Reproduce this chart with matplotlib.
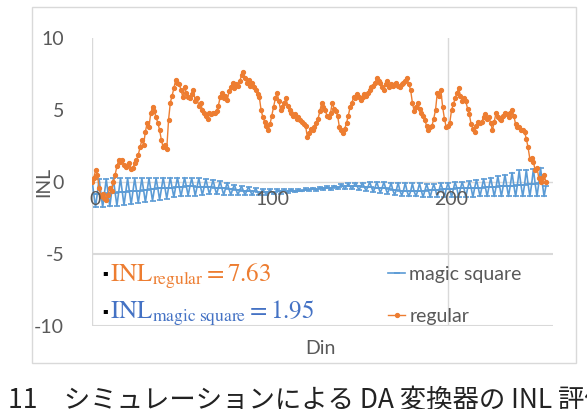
import matplotlib.pyplot as plt
from matplotlib.patches import Rectangle

plt.rcParams['font.family'] = ['Lato', 'DejaVu Sans']
plt.rcParams['mathtext.fontset'] = 'stix'

# INL of the DA converter, Din = 0..255
din = list(range(256))

magic_square = [
    0.15, -0.85, -1.75, -0.8, 0.2, -0.8, -1.75, -0.8, 0.2, -0.75, -1.7, -0.75, 0.25, -0.75, -1.65, -0.7,
    0.25, -0.7, -1.6, -0.7, 0.25, -0.65, -1.55, -0.65, 0.25, -0.6, -1.45, -0.6, 0.25, -0.55, -1.4, -0.55,
    0.25, -0.5, -1.3, -0.5, 0.25, -0.45, -1.25, -0.45, 0.3, -0.4, -1.15, -0.4, 0.3, -0.4, -1.05, -0.35,
    0.3, -0.35, -1.0, -0.35, 0.3, -0.3, -0.95, -0.3, 0.25, -0.3, -0.95, -0.35, 0.25, -0.35, -0.9, -0.35,
    0.2, -0.35, -0.85, -0.35, 0.15, -0.4, -0.85, -0.4, 0.05, -0.45, -0.9, -0.45, -0.05, -0.5, -0.9, -0.5,
    -0.2, -0.55, -0.9, -0.55, -0.3, -0.6, -0.9, -0.6, -0.35, -0.65, -0.9, -0.65, -0.45, -0.7, -0.9, -0.7,
    -0.5, -0.7, -0.9, -0.7, -0.5, -0.7, -0.85, -0.7, -0.5, -0.65, -0.8, -0.65, -0.5, -0.65, -0.75, -0.6,
    -0.5, -0.6, -0.7, -0.6, -0.5, -0.6, -0.65, -0.55, -0.45, -0.55, -0.6, -0.5, -0.4, -0.5, -0.6, -0.5,
    -0.35, -0.45, -0.55, -0.45, -0.3, -0.4, -0.55, -0.4, -0.25, -0.35, -0.5, -0.35, -0.15, -0.3, -0.5, -0.3,
    -0.1, -0.3, -0.5, -0.3, -0.05, -0.3, -0.55, -0.3, -0.05, -0.35, -0.6, -0.35, 0.0, -0.35, -0.7, -0.4,
    0.0, -0.4, -0.75, -0.4, 0.0, -0.45, -0.8, -0.5, -0.05, -0.55, -0.9, -0.55, -0.05, -0.6, -0.95, -0.6,
    -0.05, -0.65, -1.0, -0.65, -0.1, -0.65, -1.0, -0.6, -0.1, -0.6, -1.05, -0.6, -0.15, -0.55, -1.05, -0.55,
    -0.15, -0.55, -1.05, -0.55, -0.1, -0.5, -1.05, -0.5, -0.05, -0.5, -1.05, -0.5, 0.0, -0.45, -1.05, -0.45,
    0.0, -0.45, -1.05, -0.45, 0.05, -0.4, -1.05, -0.4, 0.15, -0.4, -1.0, -0.4, 0.2, -0.35, -1.0, -0.35,
    0.3, -0.35, -1.0, -0.35, 0.4, -0.3, -1.0, -0.3, 0.5, -0.25, -1.0, -0.25, 0.65, -0.25, -1.0, -0.2,
    0.8, -0.2, -1.0, -0.2, 0.85, -0.15, -1.0, -0.15, 0.9, -0.15, -1.0, -0.1, 1.0, -0.1, -1.0, -0.3,
]

regular = [
    0.0, 0.3, 0.8, 0.5, -0.4, -1.0, -0.8, -1.1, -1.25, -0.9, -0.4, -0.6, 0.0, 0.5, 1.1, 1.5,
    1.4, 1.5, 1.2, 1.05, 1.2, 1.3, 0.9, 1.0, 1.3, 1.5, 1.9, 2.4, 2.9, 2.6, 3.5, 4.1,
    3.8, 4.8, 5.2, 4.9, 4.5, 4.1, 3.6, 2.9, 2.4, 2.6, 2.3, 4.3, 5.5, 6.0, 6.5, 7.1,
    6.9, 6.8, 6.4, 5.9, 6.6, 6.2, 5.9, 5.8, 6.1, 6.4, 5.6, 5.8, 5.3, 5.5, 5.0, 4.8,
    4.6, 4.4, 4.8, 4.7, 4.8, 4.8, 4.9, 5.3, 5.9, 6.2, 5.8, 6.0, 5.7, 6.3, 6.6, 6.9,
    6.5, 6.8, 6.7, 7.0, 7.4, 7.63, 7.2, 6.9, 7.1, 6.7, 6.9, 6.6, 6.4, 6.1, 5.9, 5.0,
    4.5, 4.2, 3.9, 3.6, 4.0, 4.6, 5.2, 5.8, 6.2, 5.6, 5.0, 5.2, 5.5, 5.8, 5.3, 5.0,
    4.8, 4.6, 4.7, 4.4, 4.5, 4.3, 4.2, 4.0, 3.9, 3.1, 3.4, 3.7, 3.6, 3.8, 4.1, 4.4,
    4.9, 5.5, 5.2, 5.0, 4.6, 4.5, 4.8, 5.5, 5.1, 4.9, 4.6, 3.8, 3.6, 3.4, 3.7, 4.1,
    4.6, 5.2, 5.5, 5.9, 5.8, 6.1, 5.9, 5.7, 5.9, 6.1, 6.0, 6.2, 6.4, 6.6, 6.7, 6.9,
    7.2, 7.0, 6.9, 6.6, 6.4, 6.8, 7.0, 6.6, 6.8, 6.7, 6.8, 6.9, 6.7, 6.6, 6.8, 6.9,
    7.0, 7.2, 6.8, 6.4, 5.5, 4.9, 5.2, 5.5, 5.1, 4.8, 4.6, 4.3, 3.9, 3.6, 3.8, 3.9,
    4.4, 5.0, 6.2, 6.0, 6.4, 5.2, 4.4, 3.8, 3.9, 4.1, 5.0, 5.4, 5.8, 6.2, 6.5, 6.0,
    5.6, 5.8, 5.6, 5.1, 4.7, 4.0, 3.7, 3.5, 3.9, 4.2, 4.1, 4.2, 4.5, 4.7, 4.4, 4.5,
    4.1, 3.6, 4.2, 4.8, 4.5, 4.4, 4.3, 4.6, 4.8, 4.7, 4.5, 4.8, 5.0, 4.6, 4.0, 3.8,
    3.8, 3.6, 3.6, 3.5, 3.0, 2.4, 1.6, 1.7, 1.4, 0.8, 1.0, 0.3, 0.0, 0.3, 0.5, 0.0,
]

y_ticks = [10, 5, 0, -5, -10]
x_ticks = [0, 100, 200]

blue = '#5B9BD5'
orange = '#ED7D31'
grey = '#D9D9D9'
txt = '#595959'

fig = plt.figure(figsize=(5.87, 4.09), dpi=100)
W, H = 587, 409

# chart area border
fig.patches.append(Rectangle((32 / W, 1 - 363 / H), 544 / W, 356 / H, transform=fig.transFigure,
                             fill=False, edgecolor=grey, linewidth=1))

ax = fig.add_axes([92 / W, 1 - 326 / H, (553 - 92) / W, (326 - 38) / H])
ax.set_xlim(0, 259)
ax.set_ylim(-10, 10)
for s in ax.spines.values():
    s.set_visible(False)

# the few grid lines that show in the picture
ax.axhline(0, color=grey, lw=1, zorder=0)
ax.axhline(-5, color=grey, lw=1.5, zorder=0)
ax.axhline(-10, color=grey, lw=1.5, zorder=0)
ax.axvline(0, color=grey, lw=1, zorder=0)
ax.axvline(200, color=grey, lw=1, zorder=0)

ax.plot(din, magic_square, color=blue, lw=1.2, marker='_', ms=4, mew=1.2, label='magic square')
ax.plot(din, regular, color=orange, lw=1.0, marker='o', ms=2.8, label='regular')

ax.set_yticks(y_ticks)
ax.set_yticklabels([str(v) for v in y_ticks], fontsize=14, color=txt)
ax.set_xticks([])
ax.tick_params(axis='y', length=0, pad=20)
for v in x_ticks:
    ax.text(v + 1.5, -0.6, str(v), ha='center', va='top', fontsize=14, color=txt)

fig.text(44 / W, 1 - 182 / H, 'INL', rotation=90, ha='center', va='center', fontsize=14, color=txt)
fig.text(320 / W, 1 - 348 / H, 'Din', ha='center', va='center', fontsize=14, color=txt)

# formula text box
fig.text(102 / W, 1 - 273 / H, '▪', color='black', fontsize=6, ha='left', va='center',
         family=['DejaVu Sans'])
fig.text(102 / W, 1 - 311 / H, '▪', color='black', fontsize=6, ha='left', va='center',
         family=['DejaVu Sans'])
fig.text(110 / W, 1 - 276 / H, r'$\mathrm{INL}_{\mathrm{regular}}=7.63$',
         color=orange, fontsize=18, ha='left', va='center')
fig.text(110 / W, 1 - 313 / H, r'$\mathrm{INL}_{\mathrm{magic\ square}}=1.95$',
         color='#4472C4', fontsize=18, ha='left', va='center')

leg = ax.legend(loc='upper left', bbox_to_anchor=((380 - 92) / (553 - 92), (326 - 258) / 288),
                frameon=False, fontsize=14, handlelength=0.9, handletextpad=0.2,
                labelspacing=1.3, labelcolor=txt, borderaxespad=0)

fig.text(8 / W, 1 - 400 / H, '11　シミュレーションによる DA 変換器の INL 評価',
         fontsize=19, ha='left', va='center', color='#222222',
         family=['Noto Sans CJK JP', 'DejaVu Sans'])

fig.savefig('out.png', dpi=100)
